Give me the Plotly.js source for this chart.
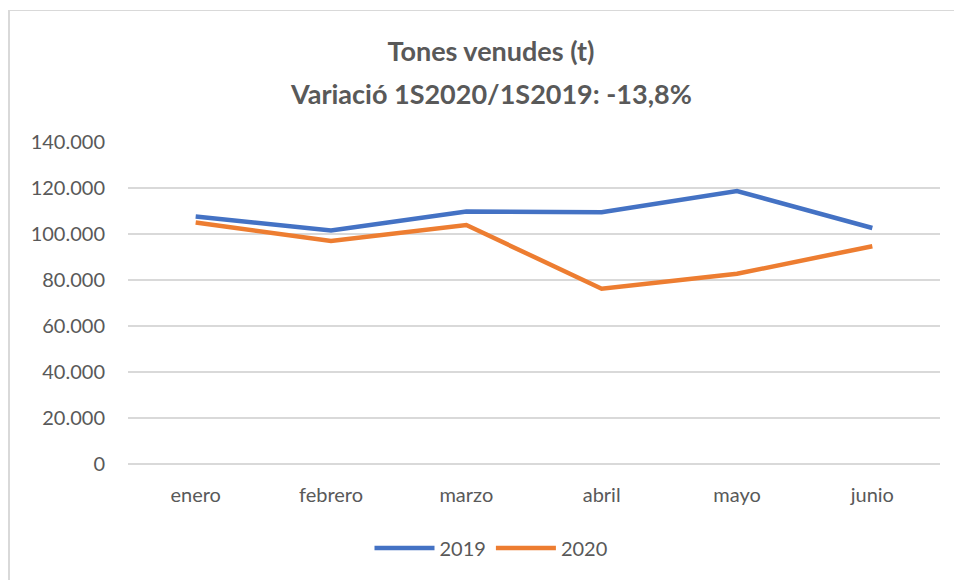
<!DOCTYPE html>
<html>
<head>
<meta charset="utf-8">
<script src="https://cdn.plot.ly/plotly-3.0.1.min.js"></script>
<style>
  html, body { margin: 0; padding: 0; background: #fff; }
  #wrap { position: relative; width: 954px; height: 580px; }
  #frame { position: absolute; left: 8px; top: 10px; right: 0; bottom: 0;
           border-top: 1.5px solid #d9d9d9; border-left: 2px solid #d9d9d9; pointer-events: none; z-index: 5; }
  #chart { position: absolute; left: 0; top: 0; width: 954px; height: 580px; }
</style>
</head>
<body>
<div id="wrap">
  <div id="chart"></div>
  <div id="frame"></div>
</div>
<script>
const months = ['enero', 'febrero', 'marzo', 'abril', 'mayo', 'junio'];
const values2019 = [107600, 101500, 109800, 109500, 118700, 102600];
const values2020 = [105000, 97000, 103900, 76200, 82700, 94700];
const tickVals = [0, 20000, 40000, 60000, 80000, 100000, 120000, 140000];
const tickText = ['0', '20.000', '40.000', '60.000', '80.000', '100.000', '120.000', '140.000'];
const titleLine1 = 'Tones venudes (t)';
const titleLine2 = 'Variació 1S2020/1S2019: -13,8%';

const font = 'Lato, "Open Sans", sans-serif';
const cx = 491 / 954;

const traces = [
  { x: months, y: values2019, name: '2019', type: 'scatter', mode: 'lines',
    line: { color: '#4472C4', width: 4.5, shape: 'linear' } },
  { x: months, y: values2020, name: '2020', type: 'scatter', mode: 'lines',
    line: { color: '#ED7D31', width: 4.5, shape: 'linear' } }
];

const layout = {
  width: 954, height: 580,
  margin: { l: 128, r: 14, t: 142, b: 116 },
  paper_bgcolor: '#ffffff', plot_bgcolor: '#ffffff',
  font: { family: font, color: '#595959', size: 20 },
  title: {
    text: '<b>' + titleLine1 + '</b>',
    font: { family: font, size: 27, color: '#595959' },
    x: cx, xanchor: 'center', xref: 'container',
    y: 1 - 52 / 580, yanchor: 'middle', yref: 'container'
  },
  annotations: [{
    text: '<b>' + titleLine2 + '</b>',
    font: { family: font, size: 27, color: '#595959' },
    xref: 'paper', x: (491 - 128) / 812, xanchor: 'center',
    yref: 'paper', y: 1 + (142 - 94) / 322, yanchor: 'middle', showarrow: false
  }],
  xaxis: {
    type: 'category', range: [-0.5, 5.5], showgrid: false, zeroline: false,
    showline: false, ticks: '', tickfont: { size: 20, color: '#595959' },
    ticklabelstandoff: 17
  },
  yaxis: {
    range: [0, 140000], tickvals: tickVals, ticktext: tickText,
    showgrid: true, gridcolor: '#d9d9d9', gridwidth: 1.5,
    zeroline: true, zerolinecolor: '#d9d9d9', zerolinewidth: 1.5,
    showline: false, ticks: '', tickfont: { size: 20, color: '#595959' },
    ticklabelstandoff: 22
  },
  showlegend: true,
  legend: {
    orientation: 'h', x: cx, xanchor: 'center', xref: 'container',
    yref: 'container', y: 32 / 580, yanchor: 'middle',
    font: { size: 20, color: '#595959' }, itemwidth: 60, tracegroupgap: 0
  },
  hovermode: false
};

Plotly.newPlot('chart', traces, layout, { displayModeBar: false, staticPlot: true });
</script>
</body>
</html>
